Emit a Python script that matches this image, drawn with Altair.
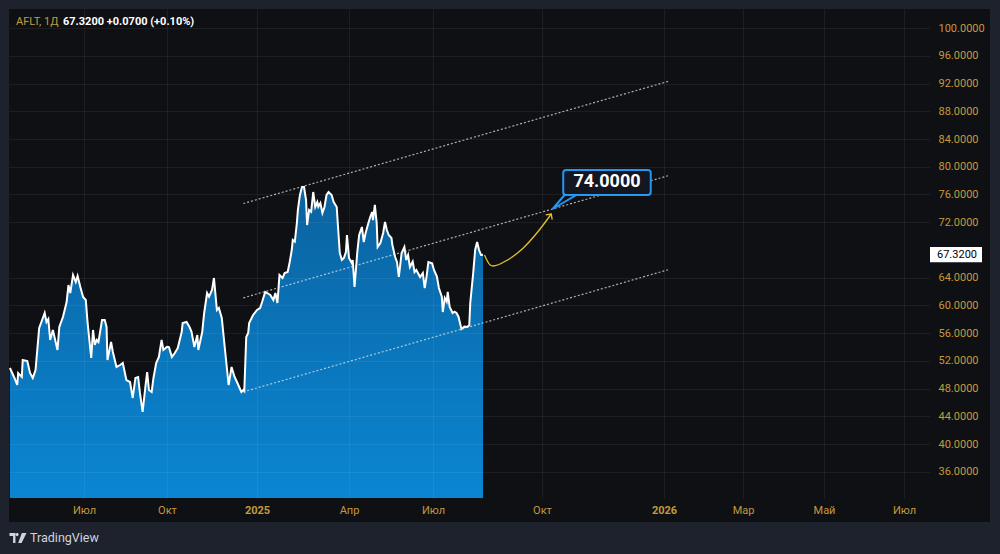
import altair as alt
import pandas as pd

# ---------------- data ----------------
dates = [
    "2024-04-11", "2024-04-16", "2024-04-19", "2024-04-20", "2024-04-24", "2024-04-25", "2024-04-30",
    "2024-05-03", "2024-05-06", "2024-05-09", "2024-05-13", "2024-05-17", "2024-05-19", "2024-05-21",
    "2024-05-23", "2024-05-25", "2024-05-28", "2024-06-02", "2024-06-04", "2024-06-08", "2024-06-12",
    "2024-06-14", "2024-06-16", "2024-06-19", "2024-06-22", "2024-06-24", "2024-06-27", "2024-06-30",
    "2024-07-03", "2024-07-05", "2024-07-09", "2024-07-11", "2024-07-13", "2024-07-15", "2024-07-17",
    "2024-07-21", "2024-07-24", "2024-07-26", "2024-07-27", "2024-07-31", "2024-08-02", "2024-08-06",
    "2024-08-10", "2024-08-13", "2024-08-17", "2024-08-21", "2024-08-24", "2024-08-27", "2024-08-30",
    "2024-09-01", "2024-09-04", "2024-09-07", "2024-09-09", "2024-09-11", "2024-09-14", "2024-09-16",
    "2024-09-19", "2024-09-22", "2024-09-25", "2024-09-27", "2024-10-01", "2024-10-03", "2024-10-06",
    "2024-10-09", "2024-10-12", "2024-10-16", "2024-10-17", "2024-10-21", "2024-10-24", "2024-10-26",
    "2024-10-29", "2024-11-01", "2024-11-02", "2024-11-06", "2024-11-08", "2024-11-11", "2024-11-13",
    "2024-11-16", "2024-11-18", "2024-11-21", "2024-11-23", "2024-11-26", "2024-11-29", "2024-12-03",
    "2024-12-06", "2024-12-09", "2024-12-12", "2024-12-16", "2024-12-18", "2024-12-19", "2024-12-21",
    "2024-12-23", "2024-12-24", "2024-12-28",
    "2025-01-01", "2025-01-04", "2025-01-06", "2025-01-09", "2025-01-11", "2025-01-14", "2025-01-17",
    "2025-01-19", "2025-01-21", "2025-01-23", "2025-01-26", "2025-01-28", "2025-01-31", "2025-02-02",
    "2025-02-04", "2025-02-05", "2025-02-07", "2025-02-09", "2025-02-10", "2025-02-12", "2025-02-14",
    "2025-02-16", "2025-02-18", "2025-02-19", "2025-02-21", "2025-02-23", "2025-02-25", "2025-02-27",
    "2025-03-01", "2025-03-02", "2025-03-04", "2025-03-06", "2025-03-08", "2025-03-10", "2025-03-12",
    "2025-03-15", "2025-03-17", "2025-03-20", "2025-03-21", "2025-03-23", "2025-03-25", "2025-03-27",
    "2025-03-29", "2025-03-30", "2025-04-01", "2025-04-04", "2025-04-05", "2025-04-07", "2025-04-10",
    "2025-04-12", "2025-04-15", "2025-04-17", "2025-04-19", "2025-04-22", "2025-04-24", "2025-04-26",
    "2025-04-27", "2025-04-29", "2025-05-01", "2025-05-02", "2025-05-05", "2025-05-08", "2025-05-10",
    "2025-05-12", "2025-05-14", "2025-05-17", "2025-05-18", "2025-05-21", "2025-05-23", "2025-05-25",
    "2025-05-28", "2025-05-31", "2025-06-02", "2025-06-04", "2025-06-06", "2025-06-09", "2025-06-11",
    "2025-06-13", "2025-06-17", "2025-06-20", "2025-06-22", "2025-06-24", "2025-06-26", "2025-06-30",
    "2025-07-02", "2025-07-05", "2025-07-07", "2025-07-10", "2025-07-11", "2025-07-13", "2025-07-15",
    "2025-07-16", "2025-07-18", "2025-07-21", "2025-07-23", "2025-07-25", "2025-07-27", "2025-07-30",
    "2025-08-02", "2025-08-05", "2025-08-07", "2025-08-08", "2025-08-11", "2025-08-13", "2025-08-15",
    "2025-08-17", "2025-08-19", "2025-08-21",
]
prices = [
    50.99, 49.55, 48.54, 50.27, 49.70, 52.14, 52.00,
    50.27, 49.55, 50.70, 56.76, 58.20, 58.92, 57.62,
    58.05, 55.03, 56.47, 53.59, 56.90, 58.34, 60.50,
    62.95, 61.80, 64.40, 63.39, 64.25, 62.67, 61.23,
    60.79, 57.48, 52.43, 56.47, 54.31, 55.03, 54.74,
    57.91, 57.91, 56.90, 52.14, 54.74, 53.30, 51.14,
    51.42, 51.71, 49.26, 48.97, 46.67, 49.55, 49.69,
    47.39, 44.65, 48.25, 50.41, 47.82, 47.53, 49.55,
    51.71, 52.58, 55.03, 53.59, 54.03, 54.00, 52.58,
    53.15, 53.87, 56.18, 57.48, 57.62, 56.90, 56.23,
    54.02, 55.75, 53.59, 56.18, 58.92, 61.80, 61.27,
    62.23, 63.96, 59.35, 59.64, 58.20, 54.02, 48.54,
    51.14, 49.74, 48.83, 47.53, 47.82, 47.67, 55.46,
    56.04, 57.48, 58.63,
    59.35, 59.64, 60.50, 61.95, 61.80, 61.51, 60.79,
    61.80, 60.36, 64.40, 63.96, 64.68, 64.83, 66.27,
    68.00, 69.44, 69.20, 71.89, 73.77, 75.93, 77.08,
    77.08, 75.21, 71.60, 73.77, 73.52, 76.36, 74.20,
    74.92, 74.24, 74.77, 73.33, 74.20, 75.93, 76.36,
    75.93, 74.92, 74.20, 71.89, 67.57, 66.56, 66.85,
    67.71, 70.16, 66.85, 66.13, 66.56, 62.67, 67.71,
    70.16, 71.32, 69.15, 70.45, 71.89, 72.76, 73.48,
    72.32, 74.49, 71.89, 68.43, 69.01, 70.45, 72.04,
    70.88, 70.16, 69.73, 68.72, 66.99, 66.27, 64.11,
    67.57, 68.43, 66.56, 67.28, 65.55, 66.32, 64.83,
    65.12, 64.11, 64.68, 62.52, 64.16, 66.27, 66.08,
    65.12, 64.16, 62.52, 61.27, 59.06, 61.08, 60.55,
    61.95, 59.78, 58.92, 59.11, 58.92, 58.39, 56.61,
    56.95, 56.90, 57.19, 60.36, 64.68, 68.00, 69.15,
    68.00, 67.28, 67.32,
]

# parallel channel (start / end of each dotted line)
channel_names = ["upper", "upper", "middle", "middle", "lower", "lower"]
channel_dates = ["2024-12-18", "2026-01-04"] * 3
channel_values = [74.70, 92.30, 61.10, 78.70, 47.55, 65.15]

# yellow forecast arrow
arrow_dates = ["2025-08-22", "2025-08-26", "2025-08-28", "2025-09-07", "2025-09-18", "2025-09-28", "2025-10-08"]
arrow_values = [67.28, 65.84, 65.69, 66.56, 68.29, 70.59, 73.19]

# target callout
target_label = "74.0000"
target_box_dates = ["2025-10-17", "2025-12-22"]
target_box_values = [75.93, 79.53]
target_text_date = "2025-11-19"
target_text_value = 77.73
pointer_dates = ["2025-10-18", "2025-10-09", "2025-10-27"]
pointer_values = [75.93, 73.91, 75.93]

current_price = 67.32
current_label = "67.3200"
header_symbol = "AFLT, 1Д"
header_quote = "67.3200  +0.0700 (+0.10%)"

tick_dates = ["2024-07-01", "2024-10-01", "2025-01-01", "2025-04-01", "2025-07-01",
              "2025-10-01", "2026-01-01", "2026-03-01", "2026-05-01", "2026-07-01"]
tick_labels = ["Июл", "Окт", "2025", "Апр", "Июл", "Окт", "2026", "Мар", "Май", "Июл"]
price_ticks = [36, 40, 44, 48, 52, 56, 60, 64, 72, 76, 80, 84, 88, 92, 96, 100]

# piecewise time axis (TradingView spacing: bars in history, calendar days in future)
scale_dates = ["2024-04-10", "2024-07-01", "2024-10-01", "2025-01-01", "2025-04-01", "2025-07-01",
               "2025-08-21", "2025-10-01", "2026-01-01", "2026-03-01", "2026-05-01", "2026-07-01",
               "2026-07-21"]
scale_px = [0, 75, 158, 248, 340, 424, 474, 533, 655, 734, 815, 895, 921]
y_min, y_max = 32.25, 102.74

# ---------------- styles ----------------
W, H = 921, 489
GOLD = "#c49a3c"
PANEL = "#0f1014"
OUTER = "#1e222d"
FONT = "Roboto"


def utc_expr(s):
    y, m, d = (int(p) for p in s.split("-"))
    return f"utc({y},{m - 1},{d})"


# build the piecewise date -> axis-position mapping as a Vega expression
def pos_expr(field):
    t = f"toDate(datum['{field}'])"
    expr = str(scale_px[-1])
    for i in range(len(scale_dates) - 2, -1, -1):
        d0, d1 = utc_expr(scale_dates[i]), utc_expr(scale_dates[i + 1])
        p0, p1 = scale_px[i], scale_px[i + 1]
        seg = f"({p0} + ({t} - {d0}) / ({d1} - {d0}) * {p1 - p0})"
        expr = f"({t} < {d1} ? {seg} : {expr})"
    return expr


tick_pos = [scale_px[scale_dates.index(d)] for d in tick_dates]
label_map = "{" + ", ".join(f"'{p}': '{l}'" for p, l in zip(tick_pos, tick_labels)) + "}"
year_pos = [p for p, l in zip(tick_pos, tick_labels) if l.isdigit()]
year_test = " || ".join(f"datum.value == {p}" for p in year_pos)

xscale = alt.Scale(domain=[0, W], nice=False, zero=False)
yscale = alt.Scale(domain=[y_min, y_max], nice=False, zero=False)

x_axis = alt.Axis(
    values=tick_pos, labelExpr=f"{label_map}[datum.value]", title=None, tickCount=40,
    domain=False, ticks=False, tickSize=0, labelPadding=6, labelColor=GOLD,
    labelFontSize=11, labelFont=FONT, labelOverlap=False, labelFlush=False,
    labelFontWeight={"condition": {"test": year_test, "value": "bold"}, "value": "normal"},
    grid=True, gridColor="#ffffff", gridOpacity=0.06, zindex=1,
)
y_axis = alt.Axis(
    values=price_ticks, format=".4f", orient="right", title=None, tickCount=40,
    domain=False, ticks=False, tickSize=0, labelPadding=8, labelColor=GOLD,
    labelFontSize=11, labelFont=FONT, labelOverlap=False, labelFlush=False,
    grid=True, gridColor="#ffffff", gridOpacity=0.06, zindex=1, labelAlign="left",
)

X = alt.X("pos:Q", scale=xscale, axis=x_axis)
Xn = alt.X("pos:Q", scale=xscale)
Y = alt.Y("value:Q", scale=yscale, axis=y_axis)
Yn = alt.Y("value:Q", scale=yscale)

one = pd.DataFrame({"k": [0]})

# background panel (plot + axes area)
panel = alt.Chart(one).mark_rect(color=PANEL).encode(
    x=alt.value(0), x2=alt.value(981), y=alt.value(0), y2=alt.value(513)
)

price_df = pd.DataFrame({"date": dates, "value": prices})
area = alt.Chart(price_df).transform_calculate(pos=pos_expr("date")).mark_area(
    opacity=1,
    line={"color": "#ffffff", "strokeWidth": 2},
    color=alt.Gradient(
        gradient="linear",
        stops=[alt.GradientStop(color="#0a63a0", offset=0),
               alt.GradientStop(color="#0a86d3", offset=1)],
        x1=1, x2=1, y1=0, y2=1,
    ),
).encode(x=X, y=Y, y2=alt.Y2(datum=y_min))

chan_df = pd.DataFrame({"series": channel_names, "date": channel_dates, "value": channel_values})
channel = alt.Chart(chan_df).transform_calculate(pos=pos_expr("date")).mark_line(
    color="#e6e6e6", opacity=0.75, strokeWidth=1.2, strokeDash=[2, 2]
).encode(x=Xn, y=Yn, detail="series:N")

arrow_df = pd.DataFrame({"date": arrow_dates, "value": arrow_values})
arrow = alt.Chart(arrow_df).transform_calculate(pos=pos_expr("date")).mark_line(
    color="#e2c12e", strokeWidth=1.3, interpolate="monotone"
).encode(x=Xn, y=Yn)

head_df = arrow_df.tail(1)
arrow_head = alt.Chart(head_df).transform_calculate(pos=pos_expr("date")).mark_point(
    shape="M-1,1L0,0L1,1", filled=False, color="#e2c12e", strokeWidth=1.3,
    size=64, angle=36, opacity=1,
).encode(x=Xn, y=Yn)

pointer_df = pd.DataFrame({"date": pointer_dates, "value": pointer_values, "i": [0, 1, 2]})
pointer = alt.Chart(pointer_df).transform_calculate(pos=pos_expr("date")).mark_line(
    color="#2196f3", strokeWidth=2
).encode(x=Xn, y=Yn, order="i:Q")

box_df = pd.DataFrame({"date": [target_box_dates[0]], "date2": [target_box_dates[1]],
                       "value": [target_box_values[0]], "value2": [target_box_values[1]]})
box = alt.Chart(box_df).transform_calculate(
    pos=pos_expr("date"), pos2=pos_expr("date2")
).mark_rect(
    fill="#131722", stroke="#2196f3", strokeWidth=2, cornerRadius=3
).encode(x=Xn, x2="pos2:Q", y=Yn, y2="value2:Q")

box_text_df = pd.DataFrame({"date": [target_text_date], "value": [target_text_value],
                            "t": [target_label]})
box_text = alt.Chart(box_text_df).transform_calculate(pos=pos_expr("date")).mark_text(
    color="#ffffff", fontSize=18, fontWeight="bold", font=FONT, baseline="middle"
).encode(x=Xn, y=Yn, text="t:N")

cur_df = pd.DataFrame({"value": [current_price + 1.1], "value2": [current_price - 1.1],
                       "t": [current_label], "mid": [current_price]})
cur_box = alt.Chart(cur_df).mark_rect(color="#ffffff").encode(
    x=alt.value(921), x2=alt.value(973), y=Yn, y2="value2:Q"
)
cur_text = alt.Chart(cur_df).mark_text(
    color="#000000", fontSize=11, font=FONT, align="left", baseline="middle"
).encode(x=alt.value(928), y=alt.Y("mid:Q", scale=yscale), text="t:N")

hdr1 = alt.Chart(pd.DataFrame({"t": [header_symbol]})).mark_text(
    color=GOLD, fontSize=11, font=FONT, align="left", baseline="middle"
).encode(x=alt.value(7), y=alt.value(13), text="t:N")
hdr2 = alt.Chart(pd.DataFrame({"t": [header_quote]})).mark_text(
    color="#ffffff", fontSize=11, font=FONT, fontWeight="bold", align="left", baseline="middle"
).encode(x=alt.value(54), y=alt.value(13), text="t:N")

logo_path = ("M-1,-0.6L-0.3,-0.6L-0.3,0.6L-0.58,0.6L-0.58,-0.25L-1,-0.25Z"
             "M-0.28,-0.4A0.18,0.18 0 1,0 0.08,-0.4A0.18,0.18 0 1,0 -0.28,-0.4Z"
             "M0.45,-0.6L1,-0.6L0.42,0.6L0.02,0.6Z")
logo = alt.Chart(one).mark_point(
    shape=logo_path, filled=True, color="#d1d4dc", size=289, opacity=1, strokeWidth=0
).encode(x=alt.value(9), y=alt.value(529))
logo_text = alt.Chart(pd.DataFrame({"t": ["TradingView"]})).mark_text(
    color="#d1d4dc", fontSize=12.5, font=FONT, align="left", baseline="middle"
).encode(x=alt.value(21), y=alt.value(529), text="t:N")

chart = alt.layer(
    panel, area, channel, arrow, arrow_head, pointer, box, box_text,
    cur_box, cur_text, hdr1, hdr2, logo, logo_text
).properties(
    width=W, height=H, background=OUTER,
    padding={"left": 9, "top": 9, "right": 70, "bottom": 56},
    autosize=alt.AutoSizeParams(type="none"),
).configure_view(stroke=None, fill=PANEL)

chart.save("out.html", embed_options={"renderer": "svg", "actions": False})
